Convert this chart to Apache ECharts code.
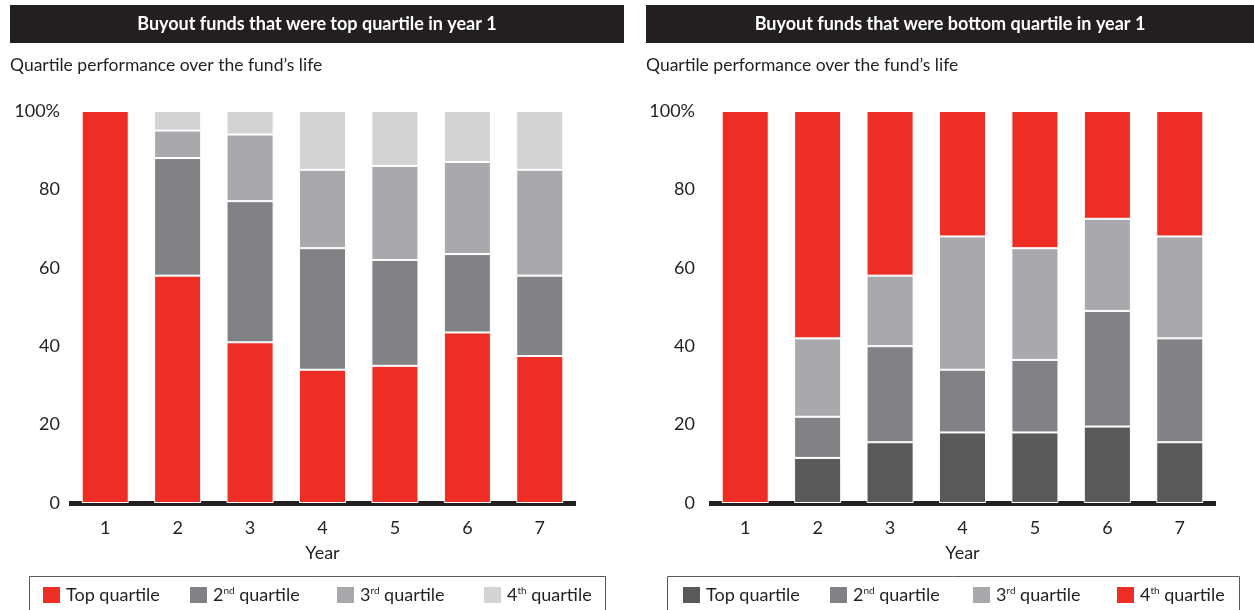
<!DOCTYPE html>
<html>
<head>
<meta charset="utf-8">
<script src="https://cdn.jsdelivr.net/npm/echarts@6/dist/echarts.min.js"></script>
<style>
html,body{margin:0;padding:0;background:#fff;}
#c{width:1254px;height:610px;}
</style>
</head>
<body>
<div id="c"></div>
<script>
// ---- data ----
const years = ['1','2','3','4','5','6','7'];
const yTicks = [0, 20, 40, 60, 80, 100];

// Left: funds that were top quartile in year 1
const leftTop    = [100, 58, 41, 34, 35, 43.5, 37.5];
const left2nd    = [0, 30, 36, 31, 27, 20, 20.5];
const left3rd    = [0, 7, 17, 20, 24, 23.5, 27];
const left4th    = [0, 5, 6, 15, 14, 13, 15];

// Right: funds that were bottom quartile in year 1
const rightTop   = [0, 11.5, 15.5, 18, 18, 19.5, 15.5];
const right2nd   = [0, 10.5, 24.5, 16, 18.5, 29.5, 26.5];
const right3rd   = [0, 20, 18, 34, 28.5, 23.5, 26];
const right4th   = [100, 58, 42, 32, 35, 27.5, 32];

const leftTitle  = 'Buyout funds that were top quartile in year 1';
const rightTitle = 'Buyout funds that were bottom quartile in year 1';
const subTitle   = 'Quartile performance over the fund\u2019s life';
const xName = 'Year';
const legendLabels = ['Top quartile', '2{sup|nd} quartile', '3{sup|rd} quartile', '4{sup|th} quartile'];

// ---- styles ----
const FONT = 'Lato';
const TXT = '#231F20';
const RED = '#EE2E24';
const G1 = '#58595B', G2 = '#808285', G3 = '#A7A9AC', G4 = '#D1D3D4';
const leftColors = [RED, G2, G3, G4];
const rightColors = [G1, G2, G3, RED];

const chart = echarts.init(document.getElementById('c'), null, {renderer: 'canvas'});

const grids = [
  {left: 69, top: 111, width: 507, height: 392},
  {left: 709, top: 111, width: 507, height: 392}
];

function xAxis(i) {
  return {
    type: 'category', gridIndex: i, data: years, offset: 2.5,
    axisLine: {lineStyle: {color: TXT, width: 5, cap: 'butt'}},
    axisTick: {show: false},
    axisLabel: {color: TXT, fontFamily: FONT, fontSize: 18, margin: 14},
    name: xName, nameLocation: 'middle', nameGap: 39,
    nameTextStyle: {color: TXT, fontFamily: FONT, fontSize: 18}
  };
}
function yAxis(i, margin) {
  return {
    type: 'value', gridIndex: i, min: 0, max: 100, interval: 20,
    splitLine: {show: false}, axisLine: {show: false}, axisTick: {show: false},
    axisLabel: {
      color: TXT, fontFamily: FONT, fontSize: 18, margin: margin, padding: [0, 0, 5, 0],
      formatter: v => (yTicks.indexOf(v) >= 0 ? (v === 100 ? '100%' : String(v)) : '')
    }
  };
}

// zero-height segments are not drawn
const seg = d => d.map(v => (v === 0 ? null : v));

const leftData = [leftTop, left2nd, left3rd, left4th];
const rightData = [rightTop, right2nd, right3rd, right4th];
const series = [];
const names = {};
leftData.forEach((d, k) => {
  const nm = 'L' + k; names[nm] = legendLabels[k];
  series.push({name: nm, type: 'bar', stack: 'L', xAxisIndex: 0, yAxisIndex: 0,
    data: seg(d), barCategoryGap: '35%', color: leftColors[k],
    itemStyle: {color: leftColors[k], borderColor: '#fff', borderWidth: 1}});
});
rightData.forEach((d, k) => {
  const nm = 'R' + k; names[nm] = legendLabels[k];
  series.push({name: nm, type: 'bar', stack: 'R', xAxisIndex: 1, yAxisIndex: 1,
    data: seg(d), barCategoryGap: '35%', color: rightColors[k],
    itemStyle: {color: rightColors[k], borderColor: '#fff', borderWidth: 1}});
});

const legendPos = {L0: 41, L1: 188, L2: 335, L3: 482, R0: 681, R1: 828, R2: 971, R3: 1115};
const legends = Object.keys(legendPos).map(nm => ({
  data: [nm], left: legendPos[nm], top: 585, padding: 0,
  itemWidth: 19, itemHeight: 18, icon: 'rect', itemGap: 0, selectedMode: false,
  formatter: n => names[n],
  textStyle: {color: TXT, fontFamily: FONT, fontSize: 18,
    rich: {sup: {fontSize: 10, fontFamily: FONT, color: TXT, verticalAlign: 'top', padding: [0, 0, 8, 0]}}}
}));

const option = {
  animation: false,
  backgroundColor: '#fff',
  graphic: [
    {type: 'rect', shape: {x: 10, y: 5, width: 614, height: 38}, style: {fill: TXT}},
    {type: 'rect', shape: {x: 646, y: 5, width: 610, height: 38}, style: {fill: TXT}},
    {type: 'rect', shape: {x: 29.5, y: 576.5, width: 576, height: 60}, style: {fill: 'none', stroke: '#58595B', lineWidth: 1}},
    {type: 'rect', shape: {x: 667.5, y: 576.5, width: 572, height: 60}, style: {fill: 'none', stroke: '#58595B', lineWidth: 1}}
  ],
  title: [
    {text: leftTitle, left: 317, top: 15, textAlign: 'center', padding: 0,
      textStyle: {color: '#fff', fontFamily: FONT, fontWeight: 'bold', fontSize: 18}},
    {text: rightTitle, left: 950, top: 15, textAlign: 'center', padding: 0,
      textStyle: {color: '#fff', fontFamily: FONT, fontWeight: 'bold', fontSize: 18}},
    {text: subTitle, left: 10, top: 56, padding: 0,
      textStyle: {color: TXT, fontFamily: FONT, fontWeight: 'normal', fontSize: 17.5}},
    {text: subTitle, left: 646, top: 56, padding: 0,
      textStyle: {color: TXT, fontFamily: FONT, fontWeight: 'normal', fontSize: 17.5}}
  ],
  legend: legends,
  grid: grids,
  xAxis: [xAxis(0), xAxis(1)],
  yAxis: [yAxis(0, 9), yAxis(1, 14)],
  series: series
};
chart.setOption(option);
</script>
</body>
</html>
